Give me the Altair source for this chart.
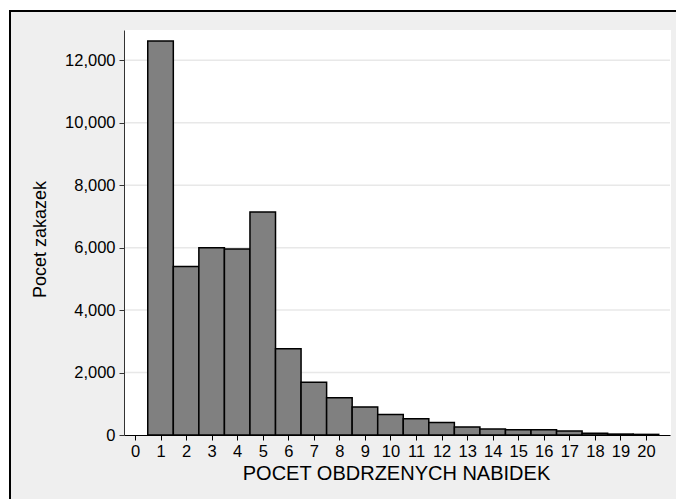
import altair as alt
import pandas as pd

# ---- data ----
offers = list(range(1, 21))
counts = [12620, 5400, 6000, 5960, 7140, 2760, 1690, 1190, 900, 660,
          520, 400, 260, 190, 170, 170, 130, 60, 30, 20]
x_ticks = list(range(0, 21))
y_ticks = [0, 2000, 4000, 6000, 8000, 10000, 12000]
grid_values = [2000, 4000, 6000, 8000, 10000, 12000]

W, H = 546, 405
FONT = "Liberation Sans"

df = pd.DataFrame({"n": offers, "count": counts})
xs = alt.Scale(domain=[-0.43, 20.94], nice=False, zero=False)
ys = alt.Scale(domain=[0, 12970], nice=False)

x_axis = alt.Axis(values=x_ticks, title="POCET OBDRZENYCH NABIDEK", grid=False,
                  tickSize=5, labelPadding=3, labelFontSize=16.5, titleFontSize=20,
                  labelFont=FONT, titleFont=FONT, titleFontWeight="normal",
                  labelColor="black", titleColor="black",
                  domainColor="black", tickColor="black", zindex=1,
                  titleX=272, titleY=44, titleBaseline="alphabetic",
                  labelFlush=False, labelOverlap=False)
y_axis = alt.Axis(values=y_ticks, format=",d", title="Pocet zakazek", grid=False,
                  tickSize=5, labelPadding=4, labelFontSize=16.5, titleFontSize=18,
                  labelFont=FONT, titleFont=FONT, titleFontWeight="normal",
                  labelColor="black", titleColor="black",
                  domainColor="#333333", tickColor="#333333", zindex=1,
                  titleX=-84, titleY=209, titleBaseline="middle",
                  labelFlush=False, labelOverlap=False)

one = pd.DataFrame({"k": [0]})

frame = alt.Chart(one).mark_rect(fill="#efefef", stroke="black", strokeWidth=2).encode(
    x=alt.value(-114), x2=alt.value(800), y=alt.value(-19), y2=alt.value(700))

plotbg = alt.Chart(one).mark_rect(fill="white").encode(
    x=alt.value(0), x2=alt.value(W + 1), y=alt.value(0), y2=alt.value(H))

grid = alt.Chart(pd.DataFrame({"v": grid_values})).mark_rule(
    color="#e8e8e8", strokeWidth=1.5).encode(
    y=alt.Y("v:Q", scale=ys, axis=y_axis),
    x=alt.value(0), x2=alt.value(W))

bars = alt.Chart(df).transform_calculate(
    x0="datum.n - 0.5", x1="datum.n + 0.5", base="0"
).mark_bar(fill="#808080", stroke="black", strokeWidth=1.5).encode(
    x=alt.X("x0:Q", scale=xs, axis=x_axis),
    x2="x1:Q",
    y=alt.Y("count:Q", scale=ys, axis=y_axis),
    y2="base:Q",
)

chart = alt.layer(frame, plotbg, grid, bars).properties(
    width=W, height=H,
    autosize=alt.AutoSizeParams(type="none"),
    padding={"left": 124, "top": 30, "right": 6, "bottom": 64},
    background="white",
).configure_view(stroke=None)

chart.save("out.html", embed_options={"renderer": "svg", "actions": False})
